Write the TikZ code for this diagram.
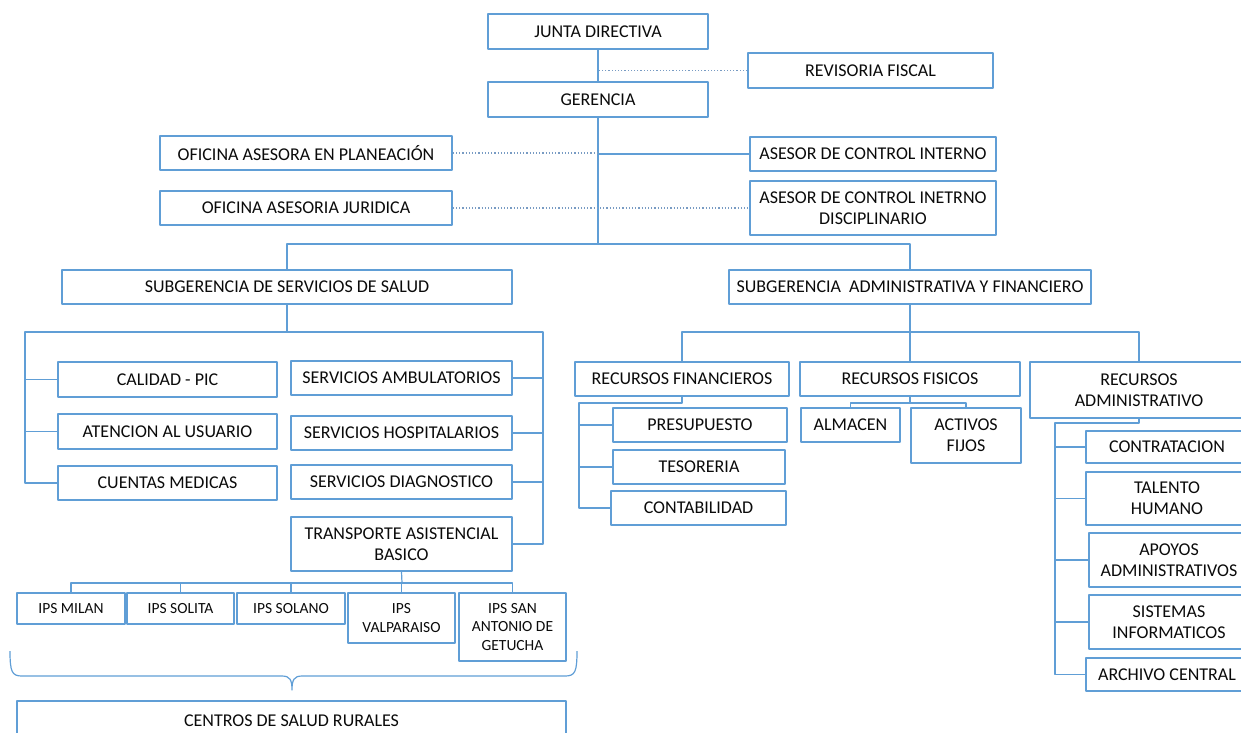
\documentclass[tikz,border=0pt]{standalone}
\usepackage{fontspec}
\setmainfont{Carlito}
\usetikzlibrary{calc}

\definecolor{orgblue}{RGB}{96,158,214}
\definecolor{dotblue}{RGB}{120,155,195}
\definecolor{ink}{RGB}{10,10,10}

\begin{document}
\begin{tikzpicture}[x=1pt,y=-1pt,line join=round,
  box/.style={draw=orgblue,line width=1.6pt,inner sep=0pt,align=center,text=ink,font=\fontsize{18}{21}\selectfont},
  ipsbox/.style={box,font=\fontsize{15.5}{18.5}\selectfont},
  wh/.style 2 args={minimum width=#1pt,minimum height=#2pt},
  link/.style={draw=orgblue,line width=1.2pt},
  staff/.style={draw=dotblue,line width=1.2pt,dotted}]
\clip (0,0) rectangle (1241,732);
% direccion
\node[box,wh={220}{35}] (junta) at (598,31.5) {JUNTA DIRECTIVA};
\node[box,wh={245}{35}] (revisoria) at (870.5,70.5) {REVISORIA FISCAL};
\node[box,wh={220}{35}] (gerencia) at (598,99.5) {GERENCIA};
\node[box,wh={292}{34}] (planeacion) at (306,153) {OFICINA ASESORA EN PLANEACIÓN};
\node[box,wh={292}{34}] (juridica) at (306,208) {OFICINA ASESORIA JURIDICA};
\node[box,wh={246}{34}] (controlint) at (873,154) {ASESOR DE CONTROL INTERNO};
\node[box,wh={246}{54}] (disciplinario) at (873,208) {ASESOR DE CONTROL INETRNO\\DISCIPLINARIO};
\coordinate (hub) at (598,244);
\draw[link] (junta) -- (gerencia);
\draw[staff] (revisoria.west) -- (revisoria.west -| junta.south);
\draw[link] (gerencia.south) -- (hub);
\draw[staff] (planeacion.east) -- (planeacion.east -| hub);
\draw[link] (controlint.west) -- (controlint.west -| hub);
\draw[staff] (juridica.east) -- (disciplinario.west);
% subgerencias
\node[box,wh={450}{34}] (salud) at (287,287) {SUBGERENCIA DE SERVICIOS DE SALUD};
\node[box,wh={362}{34}] (admin) at (910,287) {SUBGERENCIA~ ADMINISTRATIVA Y FINANCIERO};
\draw[link] (salud.north) |- (hub) -| (admin.north);
% servicios de salud
\node[box,wh={219}{35}] (calidad) at (167.5,379.5) {CALIDAD - PIC};
\node[box,wh={219}{35}] (atencion) at (167.5,431.5) {ATENCION AL USUARIO};
\node[box,wh={219}{34}] (cuentas) at (167.5,483) {CUENTAS MEDICAS};
\node[box,wh={221}{34}] (ambulatorios) at (401.5,378) {SERVICIOS AMBULATORIOS};
\node[box,wh={221}{34}] (hospitalarios) at (401.5,433) {SERVICIOS HOSPITALARIOS};
\node[box,wh={221}{34}] (diagnostico) at (401.5,482) {SERVICIOS DIAGNOSTICO};
\node[box,wh={221}{54}] (transporte) at (401.5,544) {TRANSPORTE ASISTENCIAL\\BASICO};
\coordinate (lbus) at (25,332);
\coordinate (rbus) at (543,332);
\draw[link] (salud.south) -- (salud.south |- lbus);
\draw[link] (cuentas.west) -| (lbus) -- (rbus) |- (transporte.east);
\foreach \n in {calidad,atencion}{\draw[link] (\n.west) -- (\n.west -| lbus);}
\foreach \n in {ambulatorios,hospitalarios,diagnostico}{\draw[link] (\n.east) -- (\n.east -| rbus);}
% ips
\node[ipsbox,wh={108}{31}] (milan) at (71,608.5) {IPS MILAN};
\node[ipsbox,wh={107}{31}] (solita) at (180.5,608.5) {IPS SOLITA};
\node[ipsbox,wh={108}{31}] (solano) at (291,608.5) {IPS SOLANO};
\node[ipsbox,wh={107}{50}] (valparaiso) at (401.5,618) {IPS\\VALPARAISO};
\node[ipsbox,wh={107}{68}] (getucha) at (512.5,627) {IPS SAN\\ANTONIO DE\\GETUCHA};
\coordinate (ibus) at (402,583);
\draw[link] (transporte.south) -- (ibus);
\draw[link] (milan.north) |- (ibus) -| (getucha.north);
\foreach \n in {solita,solano,valparaiso}{\draw[link] (\n.north) -- (\n.north |- ibus);}
\draw[link] (10,651) .. controls (10,672) and (12,676) .. (22,676) -- (282,676)
  .. controls (290,676) and (292,680) .. (292,690)
  .. controls (292,680) and (294,676) .. (302,676) -- (565,676)
  .. controls (575,676) and (577,672) .. (577,651);
\node[box,wh={549}{39}] (rurales) at (291.5,720.5) {CENTROS DE SALUD RURALES};
% administrativa y financiera
\node[box,wh={214}{34}] (financieros) at (682,379) {RECURSOS FINANCIEROS};
\node[box,wh={220}{34}] (fisicos) at (910,379) {RECURSOS FISICOS};
\node[box,wh={218}{56}] (administrativo) at (1139,390) {RECURSOS\\ADMINISTRATIVO};
\coordinate (abus) at (910,332);
\draw[link] (admin.south) -- (fisicos.north);
\draw[link] (financieros.north) |- (abus) -| (administrativo.north);
\node[box,wh={174}{34}] (presupuesto) at (700,425) {PRESUPUESTO};
\node[box,wh={172}{34}] (tesoreria) at (699,467) {TESORERIA};
\node[box,wh={175}{34}] (contabilidad) at (698.5,508) {CONTABILIDAD};
\coordinate (fbus) at (579,403);
\draw[link] (financieros.south) |- (fbus) |- (contabilidad.west);
\foreach \n in {presupuesto,tesoreria}{\draw[link] (\n.west) -- (\n.west -| fbus);}
\node[box,wh={99}{34}] (almacen) at (850.5,425) {ALMACEN};
\node[box,wh={110}{55}] (activos) at (966,435.5) {ACTIVOS\\FIJOS};
\coordinate (pbus) at (910,403);
\draw[link] (fisicos.south) -- (pbus);
\draw[link] (almacen.north) |- (pbus) -| (activos.north);
\node[box,wh={162}{32}] (contratacion) at (1167,447) {CONTRATACION};
\node[box,wh={162}{53}] (talento) at (1167,498.5) {TALENTO\\HUMANO};
\node[box,wh={160}{54}] (apoyos) at (1169,560) {APOYOS\\ADMINISTRATIVOS};
\node[box,wh={160}{54}] (sistemas) at (1169,622) {SISTEMAS\\INFORMATICOS};
\node[box,wh={162}{33}] (archivo) at (1167,674.5) {ARCHIVO CENTRAL};
\coordinate (dbus) at (1055,423);
\draw[link] (administrativo.south) |- (dbus) |- (archivo.west);
\foreach \n in {contratacion,talento,apoyos,sistemas}{\draw[link] (\n.west) -- (\n.west -| dbus);}
\end{tikzpicture}
\end{document}
